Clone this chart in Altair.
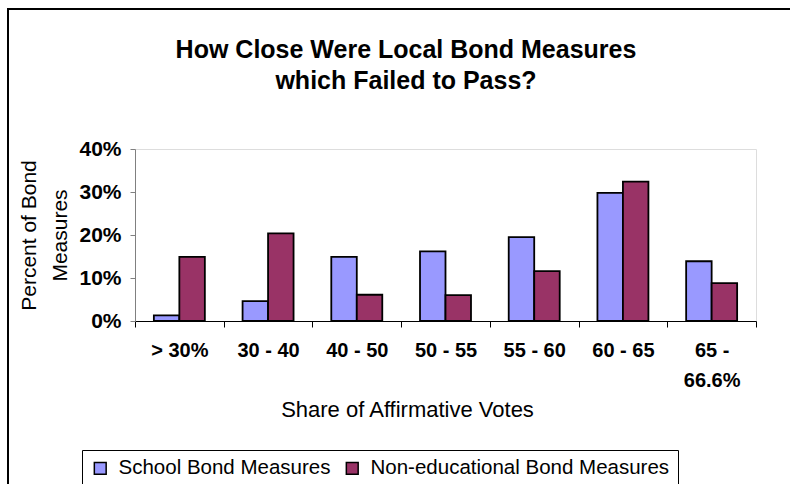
import altair as alt
import pandas as pd

# Share of affirmative votes received by failed bond measures
categories = ["> 30%", "30 - 40", "40 - 50", "50 - 55", "55 - 60", "60 - 65", "65 - 66.6%"]
school_pct = [1.3, 4.6, 14.9, 16.2, 19.5, 29.8, 13.9]
nonedu_pct = [14.9, 20.4, 6.1, 6.0, 11.6, 32.4, 8.8]
series_names = ["School Bond Measures", "Non-educational Bond Measures"]
series_colors = ["#9999FF", "#993366"]
y_ticks = [0, 10, 20, 30, 40]
title_lines = ["How Close Were Local Bond Measures", "which Failed to Pass?"]

rows = []
for cat, s, n in zip(categories, school_pct, nonedu_pct):
    rows.append({"band": cat, "series": series_names[0], "pct": s})
    rows.append({"band": cat, "series": series_names[1], "pct": n})
df = pd.DataFrame(rows)

FONT = "Liberation Sans"

bars = alt.Chart(df).mark_bar(stroke="black", strokeWidth=1.8).encode(
    x=alt.X(
        "band:N",
        sort=categories,
        scale=alt.Scale(paddingInner=0, paddingOuter=0),
        axis=alt.Axis(
            title="Share of Affirmative Votes",
            labelAngle=0,
            labelFont=FONT,
            labelFontSize=20,
            labelFontWeight="bold",
            labelColor="black",
            labelPadding=13,
            labelLineHeight=30,
            labelBaseline="top",
            labelExpr="datum.label == '65 - 66.6%' ? ['65 -', '66.6%'] : datum.label",
            tickBand="extent",
            tickSize=6,
            tickColor="black",
            domainColor="black",
            titleFont=FONT,
            titleFontSize=22,
            titleFontWeight="normal",
            titleColor="black",
            titleX=272,
            titleY=95,
            titleBaseline="alphabetic",
            titleAlign="center",
        ),
    ),
    xOffset=alt.XOffset(
        "series:N",
        sort=series_names,
        scale=alt.Scale(domain=series_names, paddingInner=0, paddingOuter=0.74),
    ),
    y=alt.Y(
        "pct:Q",
        scale=alt.Scale(domain=[0, 40], nice=False),
        axis=alt.Axis(
            values=y_ticks,
            labelExpr="datum.value + '%'",
            labelFont=FONT,
            labelFontSize=21,
            labelFontWeight="bold",
            labelColor="black",
            labelPadding=9,
            tickSize=5,
            tickColor="#808080",
            domainColor="#808080",
            grid=False,
            title=["Percent of Bond", "Measures"],
            titleFont=FONT,
            titleFontSize=21,
            titleFontWeight="normal",
            titleColor="black",
            titleAngle=-90,
            titleX=-100,
            titleY=86,
            titleAlign="center",
            titleBaseline="alphabetic",
            titleLineHeight=31,
        ),
    ),
    color=alt.Color(
        "series:N",
        sort=series_names,
        scale=alt.Scale(domain=series_names, range=series_colors),
        legend=alt.Legend(
            title=None,
            orient="none",
            legendX=-53,
            legendY=301,
            direction="horizontal",
            strokeColor="black",
            padding=8,
            symbolType="square",
            symbolSize=140,
            symbolStrokeColor="black",
            symbolStrokeWidth=1.5,
            symbolOpacity=1,
            labelFont=FONT,
            labelFontSize=20.5,
            labelColor="black",
            labelLimit=0,
            labelOffset=8,
            columnPadding=11,
        ),
    ),
)

single = pd.DataFrame({"k": [0]})

# Two-line chart heading, centred above the plot
heading = alt.Chart(single).mark_text(
    font=FONT,
    fontSize=25,
    fontWeight="bold",
    color="black",
    align="center",
    baseline="alphabetic",
    lineHeight=31,
).encode(
    x=alt.value(271),
    y=alt.value(-91),
    text=alt.value(title_lines),
)

# Outer frame of the chart area (left and top edges)
frame_left = alt.Chart(single).mark_rule(color="black", strokeWidth=2).encode(
    x=alt.value(-127), y=alt.value(-140), y2=alt.value(350)
)
frame_top = alt.Chart(single).mark_rule(color="black", strokeWidth=2).encode(
    x=alt.value(-128), x2=alt.value(670), y=alt.value(-140)
)

chart = alt.layer(bars, heading, frame_left, frame_top).properties(
    width=621,
    height=172,
    autosize=alt.AutoSizeParams(type="none"),
    padding={"left": 135, "top": 149, "right": 34, "bottom": 163},
).configure_view(stroke=None).configure(background="white")

chart.save("out.html", embed_options={"renderer": "svg", "actions": False})
